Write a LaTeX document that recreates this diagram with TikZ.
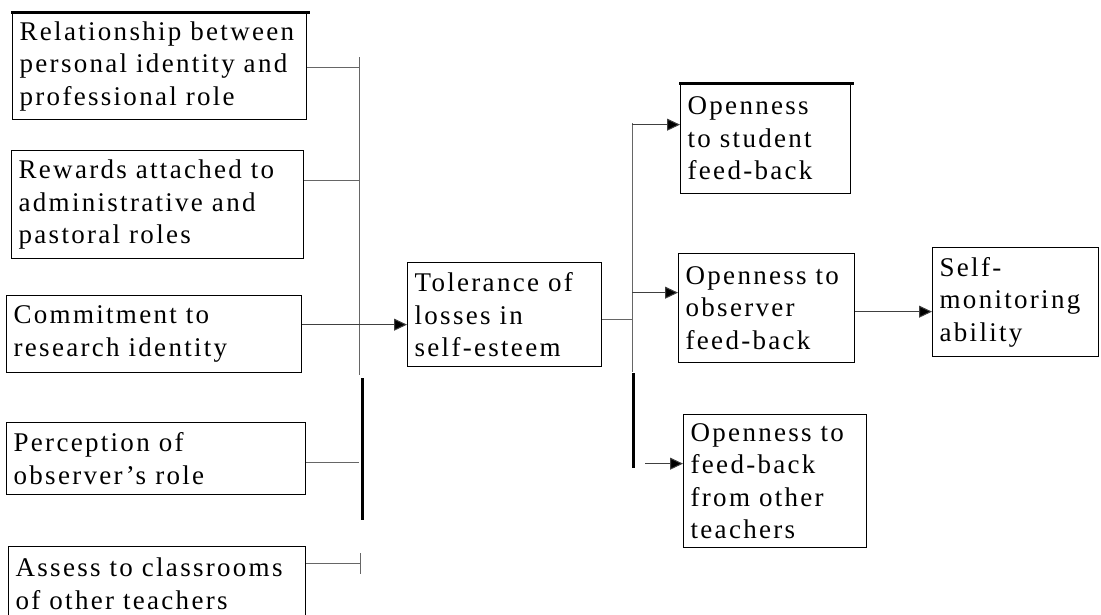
\documentclass[tikz,border=0pt]{standalone}
\usepackage{fontspec}
\setmainfont{Liberation Serif}[LetterSpace=8.5]
\usetikzlibrary{arrows.meta}
\newcommand{\boxfont}{\fontsize{27}{32.5}\selectfont}
\tikzset{
  box/.style={draw, line width=1.3pt, anchor=north west, align=left,
    inner xsep=7pt, inner ysep=0pt, font=\boxfont},
  conn/.style={draw=black!60, line width=1pt},
  bar/.style={draw=black, line width=3pt},
  arr/.style={draw=black!75, line width=1pt, -{Triangle[length=13pt,width=12pt,fill=black]}},
}
\begin{document}
\begin{tikzpicture}[x=1pt,y=-1pt]
\useasboundingbox (0,0) rectangle (1101,614);
% left column
\node[box, text width=280, minimum height=107] (r1) at (12,12) {Relationship between\\personal identity and\\professional role};
\node[box, text width=278, minimum height=108] (r2) at (11,150) {Rewards attached to\\administrative and\\pastoral roles};
\node[box, text width=281, minimum height=77] (c3) at (6,295) {Commitment to\\research identity};
\node[box, text width=285, minimum height=72] (p4) at (6,422) {Perception of\\observer's role};
\node[box, text width=283, minimum height=74] (a5) at (8,546) {Assess to classrooms\\of other teachers};
% middle
\node[box, text width=180, minimum height=104] (t) at (407,262) {Tolerance of\\losses in\\self-esteem};
% right
\node[box, text width=156, minimum height=110] (os) at (680,83) {Openness\\to student\\feed-back};
\node[box, text width=162, minimum height=109] (oo) at (678,253) {Openness to\\observer\\feed-back};
\node[box, text width=169, minimum height=133] (ot) at (683,414) {Openness to\\feed-back\\from other\\teachers};
\node[box, text width=152, minimum height=109] (sm) at (932,247) {Self-\\monitoring\\ability};
% thick top bars
\draw[bar] ([xshift=-1pt]r1.north west) -- ([xshift=3pt]r1.north east);
\draw[bar] ([xshift=-1pt]os.north west) -- ([xshift=3pt]os.north east);
% bus coordinates
\coordinate (busL) at (359,57);
\coordinate (busLend) at (359,375);
\coordinate (barLtop) at (362,378);
\coordinate (barLbot) at (362,520);
\coordinate (tickL) at (360,553);
\coordinate (tickLb) at (360,574);
\coordinate (busR) at (632,123);
\coordinate (busRend) at (632,372);
\coordinate (barRtop) at (633,373);
\coordinate (barRbot) at (633,468);
% left connectors
\draw[conn] (busL) -- (busLend);
\draw[bar] (barLtop) -- (barLbot);
\draw[conn] (tickL) -- (tickLb);
\draw[conn] ([yshift=-1.5pt]r1.east) -- ([yshift=-1.5pt]r1.east -| busL);
\draw[conn] ([yshift=24pt]r2.east) -- ([yshift=24pt]r2.east -| busL);
\draw[conn] ([yshift=-4pt]p4.east) -- ([yshift=-4pt]p4.east -| busL);
\draw[conn] ([yshift=20pt]a5.east) -- ([yshift=20pt]a5.east -| tickL);
\draw[arr] ([yshift=9.5pt]c3.east) -- ([yshift=9.5pt]c3.east -| t.west);
% right connectors
\draw[conn] (busR) -- (busRend);
\draw[bar] (barRtop) -- (barRbot);
\draw[conn] ([yshift=-5pt]t.east) -- ([yshift=-5pt]t.east -| busR);
\draw[arr] ([yshift=14pt]os.west -| busR) -- ([yshift=14pt]os.west);
\draw[arr] ([yshift=15.5pt]oo.west -| busR) -- ([yshift=15.5pt]oo.west);
\draw[arr] ([xshift=12pt,yshift=17.5pt]ot.west -| barRbot) -- ([yshift=17.5pt]ot.west);
\draw[arr] ([yshift=-3.5pt]oo.east) -- ([yshift=-3.5pt]oo.east -| sm.west);
\end{tikzpicture}
\end{document}
